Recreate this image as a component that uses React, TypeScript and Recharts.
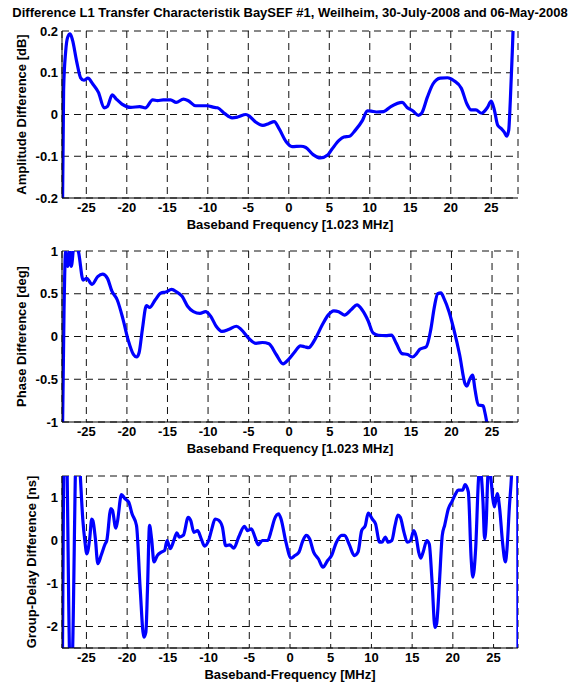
import { LineChart, CartesianGrid, XAxis, YAxis, Line } from 'recharts'

const FONT = '"Liberation Sans", Arial, Helvetica, sans-serif'

const title = 'Difference L1 Transfer Characteristik BaySEF #1, Weilheim, 30-July-2008 and 06-May-2008'
const freqTicks = [-25, -20, -15, -10, -5, 0, 5, 10, 15, 20, 25]

// Amplitude difference [dB]
const ampFreq = [
  -27.95, -27.8, -27.55, -27.3, -27.0, -26.7, -26.2, -25.7, -25.3, -24.8, -24.2, -23.5, -22.8, -22.4,
  -21.8, -21.3, -20.6, -19.5, -18.4, -17.7, -16.8, -16.2, -15.5, -14.6, -13.9, -13.0, -12.4, -11.5,
  -10.1, -9.2, -8.8, -7.9, -7.0, -6.3, -5.3, -4.8, -4.1, -3.2, -2.5, -1.8, -1.2, -0.3, 0.4, 1.5, 2.1,
  3.0, 3.9, 4.8, 5.3, 6.2, 6.8, 7.5, 8.2, 9.1, 9.7, 10.2, 10.8, 11.7, 12.6, 14.0, 14.6, 15.3, 16.0,
  16.4, 17.1, 17.8, 18.7, 19.6, 20.4, 21.3, 22.0, 22.5, 23.1, 23.8, 24.5, 25.0, 25.4, 25.8, 26.25,
  26.6, 26.9, 27.15, 27.35, 27.55, 27.7, 27.85,
]
const ampDiff = [
  -0.25, 0.06, 0.15, 0.185, 0.193, 0.178, 0.128, 0.088, 0.082, 0.087, 0.073, 0.053, 0.016, 0.019,
  0.047, 0.037, 0.025, 0.017, 0.019, 0.016, 0.035, 0.033, 0.035, 0.035, 0.029, 0.037, 0.033, 0.021,
  0.021, 0.017, 0.016, 0.002, -0.008, -0.006, 0.0, -0.005, -0.018, -0.026, -0.022, -0.017, -0.034,
  -0.066, -0.077, -0.076, -0.079, -0.096, -0.104, -0.097, -0.084, -0.062, -0.054, -0.052, -0.038,
  -0.014, 0.009, 0.008, 0.006, 0.007, 0.019, 0.029, 0.017, 0.009, -0.002, 0.003, 0.041, 0.073, 0.087,
  0.088, 0.081, 0.063, 0.025, 0.011, 0.011, 0.003, 0.016, 0.032, 0.009, -0.026, -0.034, -0.042,
  -0.052, -0.038, 0.033, 0.128, 0.21, 0.35,
]

// Phase difference [deg]
const phaseFreq = [
  -27.95, -27.75, -27.55, -27.3, -27.05, -26.85, -26.5, -26.2, -25.95, -25.4, -24.95, -24.3, -23.6,
  -23.0, -22.4, -21.85, -21.2, -20.5, -19.85, -19.2, -18.8, -18.5, -18.1, -17.6, -17.2, -16.5, -15.8,
  -15.2, -14.5, -13.85, -13.2, -12.5, -11.8, -11.0, -10.3, -9.7, -9.0, -8.3, -7.4, -6.5, -5.9, -5.0,
  -4.1, -3.3, -2.5, -1.6, -0.75, -0.1, 0.6, 1.4, 1.9, 2.4, 3.2, 4.1, 4.8, 5.5, 6.1, 6.8, 7.7, 8.35,
  9.0, 9.7, 10.35, 11.0, 11.9, 12.6, 13.2, 13.9, 14.6, 15.2, 15.7, 16.1, 16.9, 17.45, 17.9, 18.3,
  18.7, 19.1, 19.7, 20.3, 21.0, 21.7, 21.9, 22.25, 22.6, 22.9, 23.3, 23.9, 24.1, 24.35, 24.6,
]
const phaseDiff = [
  -1.2, 0.3, 1.0, 0.82, 1.0, 0.82, 1.08, 1.06, 0.98, 0.66, 0.68, 0.61, 0.7, 0.73, 0.68, 0.53, 0.43,
  0.21, -0.04, -0.21, -0.24, -0.19, 0.08, 0.36, 0.34, 0.43, 0.51, 0.52, 0.55, 0.52, 0.47, 0.35, 0.29,
  0.27, 0.29, 0.24, 0.12, 0.06, 0.085, 0.12, 0.08, -0.02, -0.08, -0.07, -0.085, -0.21, -0.32, -0.27,
  -0.19, -0.11, -0.12, -0.13, -0.03, 0.14, 0.25, 0.3, 0.29, 0.25, 0.32, 0.37, 0.31, 0.19, 0.04, 0.015,
  0.01, 0.015, -0.08, -0.2, -0.21, -0.24, -0.2, -0.15, -0.12, 0.08, 0.35, 0.5, 0.51, 0.44, 0.29, 0.08,
  -0.21, -0.56, -0.58, -0.5, -0.45, -0.62, -0.8, -0.81, -0.88, -1.0, -1.15,
]

// Group-delay difference [ns]
const gdFreq = [
  -27.95, -27.7, -27.5, -27.0, -26.8, -26.2, -25.9, -25.75, -25.45, -25.2, -24.95, -24.6, -24.35,
  -24.2, -23.9, -23.6, -23.2, -22.7, -22.5, -22.0, -21.8, -21.4, -21.2, -20.7, -20.3, -19.8, -19.4,
  -18.85, -18.4, -17.95, -17.7, -17.5, -17.25, -17.0, -16.7, -16.3, -15.8, -15.4, -15.1, -14.7, -14.2,
  -13.9, -13.6, -13.1, -12.5, -12.2, -11.8, -11.35, -10.9, -10.5, -10.0, -9.6, -9.2, -8.75, -8.3,
  -7.9, -7.4, -6.9, -6.3, -5.6, -5.2, -4.75, -4.3, -3.9, -3.4, -2.75, -2.3, -1.9, -1.4, -1.1, -0.5,
  0.13, 0.6, 1.1, 1.55, 2.0, 2.4, 2.9, 3.5, 4.05, 4.6, 5.1, 5.7, 6.35, 6.7, 7.25, 7.9, 8.35, 8.8,
  9.25, 9.6, 10.1, 10.5, 11.0, 11.3, 11.7, 12.05, 12.5, 12.9, 13.25, 13.55, 14.0, 14.4, 14.8, 15.2,
  15.5, 15.8, 16.05, 16.35, 16.8, 17.1, 17.45, 17.8, 18.0, 18.35, 18.7, 19.0, 19.45, 19.9, 20.35,
  20.65, 21.2, 21.5, 21.9, 22.25, 22.45, 22.8, 23.15, 23.3, 23.5, 23.7, 23.9, 24.1, 24.3, 24.5, 24.7,
  24.9, 25.1, 25.45, 25.75, 26.1, 26.45, 26.65, 26.95, 27.2, 27.4, 27.97, 28.0,
]
const gdDiff = [
  -3, 2.5, 2.5, -3, -3, 2.5, 2.0, 1.5, 0.5, 0.0, -0.31, 0.04, 0.5, 0.46, 0.04, -0.54, -0.35, -0.08,
  0.0, 0.74, 0.7, 0.29, 0.43, 1.07, 0.98, 0.89, 0.62, 0.35, -1.12, -2.25, -2.13, -1.12, 0.35, 0.04,
  -0.5, -0.35, -0.27, -0.23, 0, -0.19, 0.04, 0.18, 0.08, 0.12, 0.54, 0.47, 0.19, 0.23, 0.04, -0.13, 0,
  0.27, 0.5, 0.47, 0.31, -0.12, -0.1, -0.18, 0.08, 0.33, 0.23, 0.27, 0.08, -0.1, 0, 0, 0.23, 0.5, 0.62,
  0.5, -0.04, -0.41, -0.35, -0.27, -0.02, 0.12, 0.04, -0.27, -0.43, -0.62, -0.47, -0.35, -0.04, 0.12,
  0.12, -0.08, -0.35, -0.27, 0.23, 0.35, 0.64, 0.5, 0.39, -0.04, -0.04, 0.08, -0.04, 0, 0.35, 0.59,
  0.54, 0.19, -0.04, 0, 0.23, 0.08, -0.27, -0.41, -0.27, 0, -0.08, -0.97, -2.02, -1.94, -0.97, 0.12,
  0.36, 0.74, 0.91, 1.09, 1.17, 1.17, 1.3, 1.13, -0.43, -0.85, -0.19, 1.43, 1.7, 1.5, 0.9, 0.04, 0.43,
  1.5, 1.7, 1.4, 0.98, 0.78, 1.09, 0.74, -0.04, -0.5, -0.19, 0.81, 1.5, 2.5, 2.5, -3,
]

const toRows = (xs: number[], ys: number[]) => xs.map((f, i) => ({ f, v: ys[i] }))

const tickStyle = { fontSize: 13, fontWeight: 'bold', fill: '#000', fontFamily: FONT }
const labelStyle = { fontSize: 13, fontWeight: 'bold', fontFamily: FONT }

type PanelProps = {
  top: number
  height: number
  marginTop: number
  xAxisHeight: number
  rows: { f: number; v: number }[]
  xDomain: [number, number]
  yDomain: [number, number]
  yTicks: number[]
  yLabel: string
  yLabelX: number
  xLabel: string
}

const Panel = (props: PanelProps) => {
  const { top, height, marginTop, xAxisHeight, rows, xDomain, yDomain, yTicks, yLabel, yLabelX, xLabel } = props
  return (
    <div style={{ position: 'absolute', left: 0, top }}>
      <LineChart width={569} height={height} data={rows} margin={{ top: marginTop, right: 51, bottom: 0, left: 0 }}>
        <CartesianGrid stroke="#111" strokeDasharray="7 5" />
        <XAxis
          dataKey="f"
          type="number"
          domain={xDomain}
          ticks={freqTicks}
          allowDataOverflow
          height={xAxisHeight}
          tickSize={0}
          tickMargin={5}
          tickLine={false}
          tick={tickStyle}
          axisLine={{ stroke: '#000' }}
          label={{
            content: ({ viewBox }: any) => (
              <text
                x={viewBox.x + viewBox.width / 2}
                y={viewBox.y + 26}
                textAnchor="middle"
                dominantBaseline="central"
                style={labelStyle}
              >
                {xLabel}
              </text>
            ),
          }}
        />
        <XAxis xAxisId="box" orientation="top" height={0} tick={false} tickLine={false} axisLine={{ stroke: '#000' }} />
        <YAxis
          type="number"
          domain={yDomain}
          ticks={yTicks}
          allowDataOverflow
          width={62}
          tickSize={0}
          tickMargin={4}
          tickLine={false}
          tick={tickStyle}
          axisLine={{ stroke: '#000' }}
          label={{
            content: ({ viewBox }: any) => {
              const x = viewBox.x + yLabelX
              const y = viewBox.y + viewBox.height / 2
              return (
                <text
                  x={x}
                  y={y}
                  transform={`rotate(-90 ${x} ${y})`}
                  textAnchor="middle"
                  dominantBaseline="central"
                  style={labelStyle}
                >
                  {yLabel}
                </text>
              )
            },
          }}
        />
        <YAxis yAxisId="box" orientation="right" width={0} tick={false} tickLine={false} axisLine={{ stroke: '#000' }} />
        <Line
          type="monotone"
          dataKey="v"
          stroke="#0000ff"
          strokeWidth={3.2}
          dot={false}
          activeDot={false}
          isAnimationActive={false}
        />
      </LineChart>
    </div>
  )
}

export default function App() {
  return (
    <div style={{ position: 'absolute', left: 0, top: 0, width: 569, height: 684, background: '#fff', fontFamily: FONT, overflow: 'hidden' }}>
      <div
        style={{
          position: 'absolute',
          left: 0,
          top: 5,
          width: 580,
          textAlign: 'center',
          whiteSpace: 'nowrap',
          fontSize: 13,
          fontWeight: 'bold',
          lineHeight: '16px',
        }}
      >
        {title}
      </div>
      <Panel
        top={0}
        height={236}
        marginTop={31}
        xAxisHeight={38}
        rows={toRows(ampFreq, ampDiff)}
        xDomain={[-28, 28.3]}
        yDomain={[-0.2, 0.2]}
        yTicks={[-0.2, -0.1, 0, 0.1, 0.2]}
        yLabel="Amplitude Difference [dB]"
        yLabelX={21}
        xLabel="Baseband Frequency [1.023 MHz]"
      />
      <Panel
        top={230}
        height={231}
        marginTop={21}
        xAxisHeight={39}
        rows={toRows(phaseFreq, phaseDiff)}
        xDomain={[-28, 28.2]}
        yDomain={[-1, 1]}
        yTicks={[-1, -0.5, 0, 0.5, 1]}
        yLabel="Phase Difference [deg]"
        yLabelX={21}
        xLabel="Baseband Frequency [1.023 MHz]"
      />
      <Panel
        top={455}
        height={229}
        marginTop={21}
        xAxisHeight={36}
        rows={toRows(gdFreq, gdDiff)}
        xDomain={[-28, 28]}
        yDomain={[-2.5, 1.5]}
        yTicks={[-2, -1, 0, 1]}
        yLabel="Group-Delay Difference [ns]"
        yLabelX={31}
        xLabel="Baseband-Frequency [MHz]"
      />
    </div>
  )
}
